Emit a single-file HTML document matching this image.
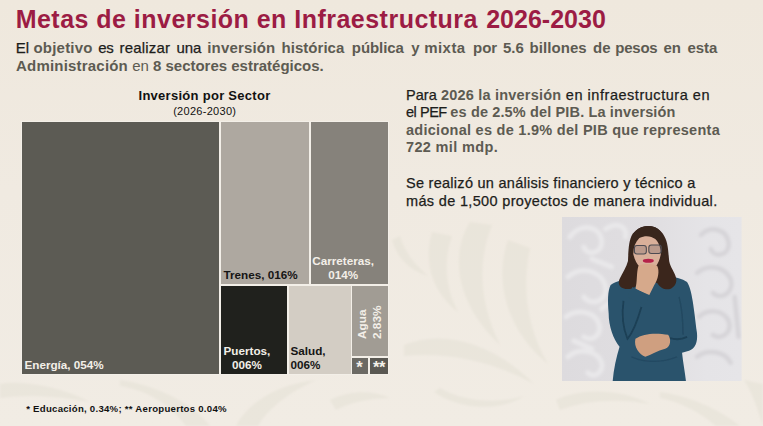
<!DOCTYPE html>
<html><head><meta charset="utf-8">
<style>
html,body{margin:0;padding:0;}
body{width:763px;height:426px;overflow:hidden;background:#efe9df;font-family:"Liberation Sans",sans-serif;position:relative;}
.abs{position:absolute;white-space:nowrap;}
#bg{position:absolute;left:0;top:0;width:763px;height:426px;}
#title{left:0;top:3.6px;font-size:25px;font-weight:bold;color:#9c1c44;line-height:30px;transform-origin:0 0;}
.sub{font-size:15px;line-height:18px;color:#1d1d1b;}
#s1 span{-webkit-text-stroke:0.25px #1d1d1b;}
.sub b,.para b{color:#5d5b52;}
#s1{left:0;top:39px;width:763px;height:18px;}
#s1 b,#s1 span{position:absolute;top:0;}
#s2{left:16px;top:56.5px;letter-spacing:0.06px;}
#ct{left:104.5px;top:88.3px;width:200px;text-align:center;letter-spacing:0.28px;font-size:13px;font-weight:bold;color:#111;line-height:15px;}
#cs{left:104.7px;top:104.8px;width:200px;text-align:center;letter-spacing:0.29px;font-size:11px;color:#111;line-height:12px;}
.cell{position:absolute;box-sizing:border-box;}
.lbl{position:absolute;font-weight:bold;font-size:11.7px;line-height:14px;white-space:nowrap;}
.para{font-size:14.5px;line-height:17.6px;color:#1d1d1b;-webkit-text-stroke:0.25px #1d1d1b;}
.para b{-webkit-text-stroke:0;}
#fn{left:26.2px;top:402.9px;letter-spacing:0.265px;font-size:9.6px;font-weight:bold;color:#111;line-height:12px;}
</style></head><body>
<svg id="bg" viewBox="0 0 763 426">
<defs><filter id="bb" x="-10%" y="-10%" width="120%" height="120%"><feGaussianBlur stdDeviation="1.2"/></filter>
<linearGradient id="gg" x1="0" y1="0" x2="0" y2="1"><stop offset="0" stop-color="#efe8dd"/><stop offset="0.45" stop-color="#f0eae1"/><stop offset="1" stop-color="#f1ece4"/></linearGradient></defs>
<rect width="763" height="426" fill="url(#gg)"/>
<g filter="url(#bb)" fill="#e4dfd4" fill-opacity="0.5">
<!-- middle swirl leaves -->
<path d="M470 222 C452 250 452 300 500 345 C478 300 478 260 492 225 Z"/>
<path d="M432 232 C424 260 430 290 458 312 C444 286 444 258 452 236 Z"/>
<path d="M508 240 C494 280 506 330 548 364 C526 326 522 286 530 248 Z"/>
<path d="M404 345 C440 330 490 340 534 384 C490 360 446 352 404 356 Z"/>
<path d="M434 392 C460 410 500 412 524 396 C500 404 462 402 440 388 Z"/>
<path d="M392 240 C398 260 410 270 428 276 C412 262 404 250 400 236 Z"/>
<!-- bottom strip -->
<path d="M0 384 C20 380 60 386 90 402 C60 396 24 394 0 398 Z"/>
<path d="M120 380 C150 384 190 400 210 426 L186 426 C170 404 146 390 120 386 Z"/>
<path d="M236 426 C250 400 280 384 316 380 C290 392 268 408 258 426 Z"/>
<path d="M330 400 C350 390 372 390 390 398 C372 398 350 402 336 410 Z"/>
<path d="M556 400 C580 388 620 388 650 404 C620 398 584 400 560 410 Z"/>
<path d="M660 392 C690 396 720 410 740 426 L716 426 C700 412 680 402 660 398 Z"/>
<path d="M744 380 C752 392 758 410 763 426 L763 384 Z"/>
</g>
</svg>

<div id="title" class="abs"><span style="position:absolute;left:15.65px;letter-spacing:0.478px">Metas de inversión en Infraestructura</span><span style="position:absolute;left:486.15px;letter-spacing:0.02px">2026-2030</span></div>
<div id="s1" class="abs sub"><span style="left:15.7px;letter-spacing:0.00px">El</span><b style="left:33.4px;letter-spacing:0.23px">objetivo</b><span style="left:98.3px;letter-spacing:-0.30px">es</span><span style="left:119.6px;letter-spacing:0.17px">realizar</span><span style="left:176.4px;letter-spacing:0.00px">una</span><b style="left:207.3px;letter-spacing:0.16px">inversión</b><b style="left:281.6px;letter-spacing:0.02px">histórica</b><b style="left:351.8px;letter-spacing:-0.06px">pública</b><b style="left:411.2px;letter-spacing:0.00px">y</b><b style="left:424.2px;letter-spacing:0.45px">mixta</b><b style="left:473.0px;letter-spacing:0.00px">por</b><b style="left:502.9px;letter-spacing:0.00px">5.6</b><b style="left:529.4px;letter-spacing:0.09px">billones</b><b style="left:593.0px;letter-spacing:0.00px">de</b><b style="left:615.3px;letter-spacing:-0.25px">pesos</b><b style="left:663.5px;letter-spacing:0.00px">en</b><b style="left:687.4px;letter-spacing:-0.02px">esta</b></div>
<div id="s2" class="abs sub"><b style="letter-spacing:0.2px">Administración</b><span style="letter-spacing:-0.01px"> <span style="color:#5d5b52">en</span> <b>8 sectores estratégicos.</b></span></div>

<div id="ct" class="abs">Inversión por Sector</div>
<div id="cs" class="abs">(2026-2030)</div>

<!-- treemap -->
<div class="cell" style="left:20.5px;top:120.5px;width:368.5px;height:254.5px;background:#f3efe8;"></div>
<div class="cell" style="left:21.5px;top:121.5px;width:197.5px;height:252.5px;background:#5c5b54;"></div>
<div class="cell" style="left:221px;top:121.5px;width:87.5px;height:162.5px;background:#aea8a0;"></div>
<div class="cell" style="left:310.5px;top:121.5px;width:77.5px;height:162.5px;background:#86827b;"></div>
<div class="cell" style="left:221px;top:286px;width:65.5px;height:88px;background:#20211d;"></div>
<div class="cell" style="left:288.5px;top:286px;width:62px;height:88px;background:#d3cdc4;"></div>
<div class="cell" style="left:352px;top:286px;width:36px;height:70px;background:#a19c94;"></div>
<div class="cell" style="left:352px;top:358px;width:16.3px;height:16px;background:#6c6a64;"></div>
<div class="cell" style="left:370.2px;top:358px;width:17.8px;height:16px;background:#5a5852;"></div>

<div class="lbl" style="left:24.5px;top:358px;color:#f3efe8;">Energía, 054%</div>
<div class="lbl" style="left:223.5px;top:268px;color:#151515;">Trenes, 016%</div>
<div class="lbl" style="left:312.3px;top:254px;text-align:center;color:#f3efe8;">Carreteras,<br>014%</div>
<div class="lbl" style="left:223.5px;top:344px;color:#f3efe8;text-align:center;">Puertos,<br>006%</div>
<div class="lbl" style="left:290.5px;top:344px;color:#151515;">Salud,<br>006%</div>
<div class="lbl" style="left:355.3px;top:338.5px;color:#f3efe8;font-size:11.8px;line-height:15px;transform:rotate(-90deg);transform-origin:0 0;">Agua<br>2.83%</div>
<div class="lbl" style="left:351.5px;top:356.3px;width:16px;text-align:center;color:#f3efe8;font-size:16.5px;line-height:22px;">*</div>
<div class="lbl" style="left:370px;top:356.3px;width:17.8px;text-align:center;color:#f3efe8;font-size:16.5px;line-height:22px;letter-spacing:-0.5px">**</div>

<div id="fn" class="abs">* Educación, 0.34%; ** Aeropuertos 0.04%</div>

<div class="abs para" id="l1" style="left:406px;top:86.5px;"><span style="letter-spacing:0.05px">Para </span><b style="letter-spacing:0.207px">2026 la inversión</b><span style="letter-spacing:0.53px"> en infraestructura en</span></div>
<div class="abs para" id="l2" style="left:406px;top:104.1px;"><span style="letter-spacing:-0.46px">el PEF </span><b style="letter-spacing:0.137px">es de 2.5% del PIB. La inversión</b></div>
<div class="abs para" id="l3" style="left:406px;top:121.7px;letter-spacing:0.274px;"><b>adicional es de 1.9% del PIB que representa</b></div>
<div class="abs para" id="l4" style="left:406px;top:139.3px;letter-spacing:0.35px;"><b>722 mil mdp.</b></div>
<div class="abs para" id="l5" style="left:406px;top:174.6px;letter-spacing:0.274px;">Se realizó un análisis financiero y técnico a</div>
<div class="abs para" id="l6" style="left:406px;top:192.7px;letter-spacing:0.338px;">más de 1,500 proyectos de manera individual.</div>

<!-- interpreter -->
<svg class="abs" style="left:562.2px;top:216.7px;" width="179.6" height="164.8" viewBox="0 0 181 165" preserveAspectRatio="none">
<defs>
<filter id="bl" x="-5%" y="-5%" width="110%" height="110%"><feGaussianBlur stdDeviation="0.7"/></filter>
<filter id="bl2" x="-5%" y="-5%" width="110%" height="110%"><feGaussianBlur stdDeviation="1.6"/></filter>
<linearGradient id="bx" x1="0" y1="0" x2="1" y2="0"><stop offset="0" stop-color="#dddbde"/><stop offset="0.5" stop-color="#e0dee1"/><stop offset="0.8" stop-color="#e5e4e7"/><stop offset="1" stop-color="#e6e5e8"/></linearGradient><clipPath id="cp"><rect x="0" y="0" width="181" height="165"/></clipPath>
</defs>
<rect x="0" y="0" width="181" height="165" fill="url(#bx)"/>
<g clip-path="url(#cp)">
<g id="orn" filter="url(#bl2)" fill="none" stroke-linecap="round">
<g stroke="#e9e8ea" stroke-width="5">
<path d="M8 20 C18 6 38 8 40 24 C41 36 26 40 22 30"/>
<path d="M44 12 C56 4 66 10 64 20"/>
<path d="M6 60 C20 48 40 54 44 70 C46 84 30 90 22 80"/>
<path d="M4 100 C14 92 30 94 36 104 C42 116 32 126 22 120"/>
<path d="M40 92 C48 84 56 84 60 90"/>
<path d="M6 140 C18 130 36 134 40 146 C42 156 32 162 26 156"/>
<path d="M30 42 L50 50"/>
<path d="M12 124 L30 132"/>
</g>
<g stroke="#d6d4d8" stroke-width="4.5">
<path d="M140 18 C150 8 166 12 168 26 C169 38 154 42 150 32"/>
<path d="M136 56 C148 46 164 50 170 62 C174 76 160 84 152 76"/>
<path d="M138 100 C146 92 162 92 168 104 C172 116 160 124 152 118"/>
<path d="M136 140 C146 132 164 134 170 146"/>
<path d="M174 80 L178 120"/>
</g>
</g>
<g filter="url(#bl)">
<!-- body -->
<path d="M49 68 C56 63 68 61 76 62 L104 60 C112 59 120 61 126 65 C131 72 133 92 136 116 C137 126 134 132 128 134 L121 136 C122 146 124 156 125 165 L51 165 C52 152 55 140 58 130 C52 122 47 110 47 96 C46 84 46 74 49 68 Z" fill="#2a536c"/>
<!-- hair back -->
<path d="M87 9 C80 9 73 13 70 19 C67 26 67 34 66.5 44 C65 50 61 56 58 62 C56 67 58 71 64 72 C70 73 76 70 78 64 L96 66 C99 71 104 73.5 109 72 C114 70 116 65 115 61 C114 56 109 50 108 44 C107 34 107 26 103 19 C100 13 94 9 87 9 Z" fill="#3a261d"/>
<!-- arm shading -->
<path d="M62 84 C60 98 61 110 66 122 C71 116 76 104 80 90" fill="none" stroke="#1d3f55" stroke-width="1.8"/>
<path d="M108 121 C114 123 120 123 126 120" fill="none" stroke="#1d3f55" stroke-width="1.8"/>
<path d="M118 80 C121 92 122 104 122 118" fill="none" stroke="#234860" stroke-width="1.4"/>
<path d="M70 140 C84 146 100 146 116 140" fill="none" stroke="#244a62" stroke-width="1.4"/>
<!-- face -->
<path d="M71 30 C71 21 78 15 86 15 C95 15 100 22 100 32 C100 42 95 53 87 54 C78 54 71 42 71 30 Z" fill="#d9b09a"/>
<!-- hair front -->
<path d="M87 9 C77 9 69 16 69 28 C69 36 70 40 72 36 C72 30 74 25 78 21 C84 18 90 19 94 22 C98 26 100 32 100 40 C103 42 105 36 104 28 C103 16 97 9 87 9 Z" fill="#38251d"/>
<!-- glasses -->
<rect x="73" y="28.5" width="12" height="8.5" rx="2.5" fill="#6a6168" fill-opacity="0.28" stroke="#4d4c52" stroke-width="1.1"/>
<rect x="87.5" y="28" width="12.5" height="8.5" rx="2.5" fill="#6a6168" fill-opacity="0.28" stroke="#4d4c52" stroke-width="1.1"/>
<!-- lips -->
<ellipse cx="87" cy="43.8" rx="5.5" ry="2" fill="#b5214a"/>
<!-- hand at chin -->
<path d="M77 49 C81 46.5 92 46.5 96 49 C98.5 54 97 62 93 68 L88 78 L74 72 C76 65 75 55 77 49 Z" fill="#d6a98b"/>
<!-- sleeve cuff over wrist -->
<path d="M71 70 L88 79 L84 88 L66 80 Z" fill="#2a536c"/>
<!-- hand 2 -->
<path d="M74 122 C82 116 96 116 107 118 C110 122 110 130 104 132 C96 134 90 138 84 140 C78 138 72 130 74 122 Z" fill="#cf9f80"/>
</g>
</g>
</svg>
</body></html>
